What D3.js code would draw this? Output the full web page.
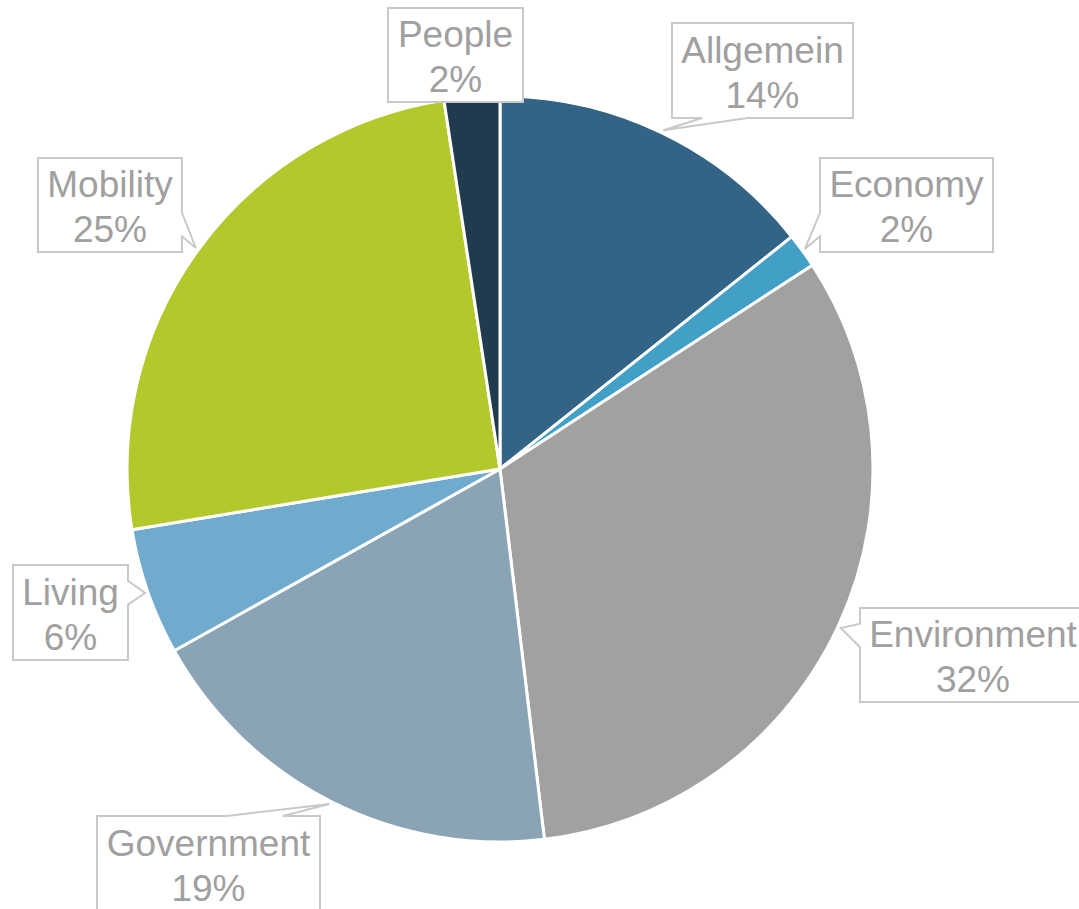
<!DOCTYPE html>
<html>
<head>
<meta charset="utf-8">
<script src="https://cdn.jsdelivr.net/npm/d3@7"></script>
<style>
  body { margin: 0; background: #fff; }
  svg { display: block; }
</style>
</head>
<body>
<div id="chart"></div>
<script>
// Data (shares in %)
var categories = ["Allgemein", "Economy", "Environment", "Government", "Living", "Mobility", "People"];
var shares = [14.3, 1.5, 32.3, 18.8, 5.5, 25.2, 2.4];
var pctLabels = ["14%", "2%", "32%", "19%", "6%", "25%", "2%"];
var colors = ["#336485", "#429fc6", "#a2a19f", "#8aa4b6", "#70aacd", "#b3c92b", "#203b4e"];

// Callout box placement (left, top, right, bottom)
var boxes = [
    [672, 23, 853, 118],
    [820, 158, 993, 252],
    [860, 608, 1086, 702],
    [97, 816, 320, 911],
    [13, 565, 128, 660],
    [38, 158, 182, 252],
    [388, 8, 523, 102]
];

var width = 1079, height = 909,
    cx = 500, cy = 469, radius = 373,
    textColor = "#a0a0a0",
    boxColor = "#c9c9c9";

var svg = d3.select("#chart").append("svg")
    .attr("width", width)
    .attr("height", height);

var pie = d3.pie().sort(null).value(function(d) { return d; });
var arcs = pie(shares);

var arc = d3.arc().innerRadius(0).outerRadius(radius);

var g = svg.append("g").attr("transform", "translate(" + cx + "," + cy + ")");

g.selectAll("path.slice")
    .data(arcs)
    .enter().append("path")
    .attr("class", "slice")
    .attr("d", arc)
    .style("fill", function(d, i) { return colors[i]; })
    .style("stroke", "#fff")
    .style("stroke-width", 3)
    .style("stroke-linejoin", "round");

// Callout shape like the Excel wedgeRectCallout
function callout(b, tip) {
    var l = b[0], t = b[1], r = b[2], bt = b[3],
        w = r - l, h = bt - t,
        hc = l + w / 2, vc = t + h / 2,
        dx = tip[0] - hc, dy = tip[1] - vc;
    var inside = tip[0] > l && tip[0] < r && tip[1] > t && tip[1] < bt;
    if (inside) {
        return "M" + l + "," + t + "H" + r + "V" + bt + "H" + l + "Z";
    }
    var x1 = l + w * (dx > 0 ? 7 : 2) / 12, x2 = l + w * (dx > 0 ? 10 : 5) / 12,
        y1 = t + h * (dy > 0 ? 7 : 2) / 12, y2 = t + h * (dy > 0 ? 10 : 5) / 12;
    var tp = tip[0] + "," + tip[1];
    var vertical = Math.abs(dy) > Math.abs(dx * h / w);
    if (vertical && dy < 0) {
        return "M" + l + "," + t + "H" + x1 + "L" + tp + "L" + x2 + "," + t + "H" + r + "V" + bt + "H" + l + "Z";
    } else if (vertical) {
        return "M" + l + "," + t + "H" + r + "V" + bt + "H" + x2 + "L" + tp + "L" + x1 + "," + bt + "H" + l + "Z";
    } else if (dx < 0) {
        return "M" + l + "," + t + "H" + r + "V" + bt + "H" + l + "V" + y2 + "L" + tp + "L" + l + "," + y1 + "Z";
    }
    return "M" + l + "," + t + "H" + r + "V" + y1 + "L" + tp + "L" + r + "," + y2 + "V" + bt + "H" + l + "Z";
}

var labelArc = d3.arc().innerRadius(radius + 3).outerRadius(radius + 3);

var labels = svg.append("g").attr("class", "labels");

arcs.forEach(function(d, i) {
    var c = labelArc.centroid(d);
    var tip = [cx + c[0], cy + c[1]];
    var b = boxes[i];
    labels.append("path")
        .attr("d", callout(b, tip))
        .style("fill", "#fff")
        .style("stroke", boxColor)
        .style("stroke-width", 2);
    var mx = (b[0] + b[2]) / 2, my = (b[1] + b[3]) / 2;
    var txt = labels.append("text")
        .attr("text-anchor", "middle")
        .style("font-family", "Liberation Sans, Arial, sans-serif")
        .style("font-size", "37px")
        .style("fill", textColor);
    txt.append("tspan").attr("x", mx).attr("y", my - 8).text(categories[i]);
    txt.append("tspan").attr("x", mx).attr("y", my + 37).text(pctLabels[i]);
});
</script>
</body>
</html>
